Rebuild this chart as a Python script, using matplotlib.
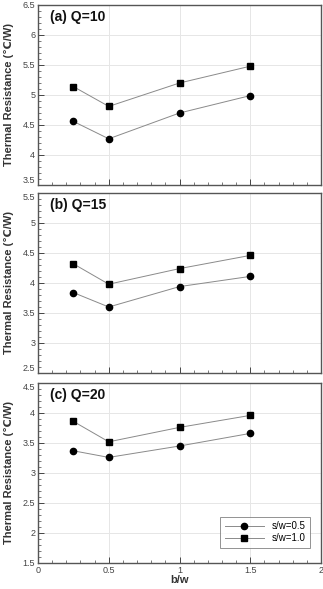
import matplotlib
matplotlib.use("Agg")
import matplotlib.pyplot as plt
from matplotlib.ticker import MultipleLocator

plt.rcParams['font.family'] = ['Liberation Sans', 'DejaVu Sans']

bw = [0.25, 0.5, 1.0, 1.5]
titles = ["(a) Q=10", "(b) Q=15", "(c) Q=20"]
sw05 = [
    [4.56, 4.27, 4.70, 4.99],
    [3.84, 3.60, 3.94, 4.11],
    [3.37, 3.26, 3.45, 3.66],
]
sw10 = [
    [5.14, 4.81, 5.20, 5.48],
    [4.32, 3.98, 4.24, 4.46],
    [3.86, 3.52, 3.76, 3.96],
]
ylims = [(3.5, 6.5), (2.5, 5.5), (1.5, 4.5)]
ytick_labels = [
    ["3.5", "4", "4.5", "5", "5.5", "6", "6.5"],
    ["2.5", "3", "3.5", "4", "4.5", "5", "5.5"],
    ["1.5", "2", "2.5", "3", "3.5", "4", "4.5"],
]
xtick_labels = ["0", "0.5", "1", "1.5", "2"]
series_labels = ["s/w=0.5", "s/w=1.0"]

fig = plt.figure(figsize=(3.23, 5.89), dpi=100)
left, width = 38 / 323, 283 / 323
bottoms = [1 - 185 / 589, 1 - 373 / 589, 1 - 563 / 589]
height = 180 / 589
frame_col = "#555555"
tick_col = "#444444"

for i in range(3):
    ax = fig.add_axes([left, bottoms[i], width, height])
    ax.plot(bw, sw05[i], color="#8a8a8a", lw=0.7, marker="o", ms=4.5,
            mfc="black", mec="black", label=series_labels[0])
    ax.plot(bw, sw10[i], color="#8a8a8a", lw=0.7, marker="s", ms=4.5,
            mfc="black", mec="black", label=series_labels[1])
    ax.set_xlim(0, 2)
    ax.set_ylim(*ylims[i])
    yt = [float(s) for s in ytick_labels[i]]
    ax.set_yticks(yt)
    ax.set_yticklabels(ytick_labels[i])
    ax.set_xticks([0, 0.5, 1, 1.5, 2])
    ax.xaxis.set_minor_locator(MultipleLocator(0.1))
    ax.yaxis.set_minor_locator(MultipleLocator(0.1))
    ax.grid(True, which="major", color="#e6e6e6", lw=0.7)
    ax.set_axisbelow(True)
    ax.tick_params(which="both", direction="in", top=False, right=False,
                   colors=tick_col, labelcolor="#444444", labelsize=6.5)
    ax.tick_params(which="major", length=4, width=0.7, pad=2)
    ax.tick_params(which="minor", length=2, width=0.5)
    ylabs = ax.get_yticklabels()
    if i < 2:
        ylabs[0].set_va("bottom")
    if i > 0:
        ylabs[-1].set_va("top")
        ylabs[-1].set_y(yt[-1])
    for sp in ax.spines.values():
        sp.set_color(frame_col)
        sp.set_linewidth(1.0)
    ax.set_ylabel("Thermal Resistance (℃/W)", fontsize=8, fontweight="bold",
                  color="#333333", labelpad=6)
    ax.text(0.042, 0.935, titles[i], transform=ax.transAxes, fontsize=10,
            fontweight="bold", va="center", ha="left", color="#111111")
    if i < 2:
        ax.set_xticklabels([])
    else:
        ax.set_xticklabels(xtick_labels)
        ax.set_xlabel("b/w", fontsize=8, fontweight="bold", color="#333333",
                      labelpad=0)
        leg = ax.legend(loc="lower right", bbox_to_anchor=(0.96, 0.085),
                        fontsize=7, handlelength=4.0, frameon=True,
                        fancybox=False, edgecolor="#777777", borderpad=0.45,
                        labelspacing=0.2, handletextpad=0.8, borderaxespad=0)
        leg.get_frame().set_linewidth(0.7)

fig.savefig("out.png", dpi=100)
